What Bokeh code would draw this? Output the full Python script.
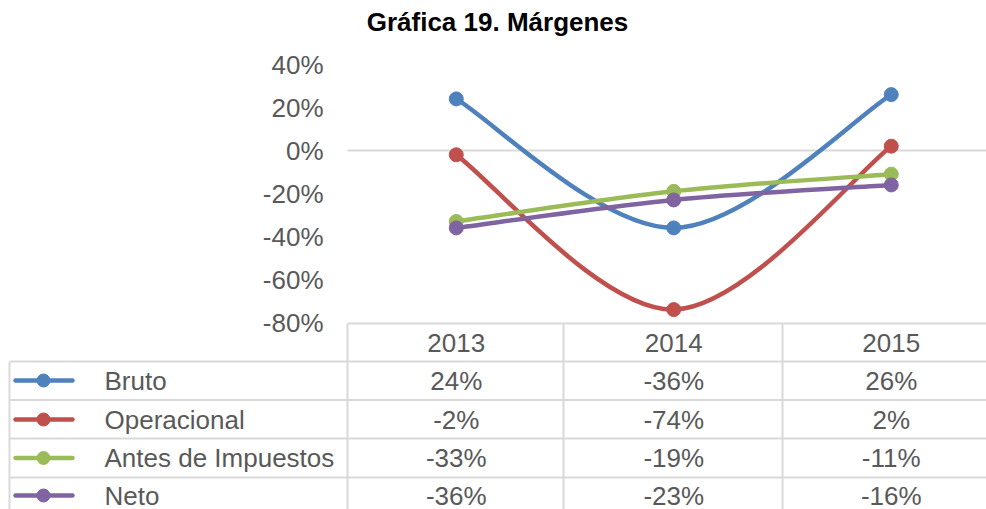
from bokeh.plotting import figure
from bokeh.models import Range1d, ColumnDataSource
from bokeh.core.properties import value
from bokeh.embed import file_html
from bokeh.resources import INLINE

# ---- data ----
years = ["2013", "2014", "2015"]
series_names = ["Bruto", "Operacional", "Antes de Impuestos", "Neto"]
bruto = [24, -36, 26]
operacional = [-2, -74, 2]
antes_impuestos = [-33, -19, -11]
neto = [-36, -23, -16]
y_ticks = [40, 20, 0, -20, -40, -60, -80]
title_text = "Gráfica 19. Márgenes"

series_values = [bruto, operacional, antes_impuestos, neto]
colors = ["#4F81BD", "#C0504D", "#9BBB59", "#8064A2"]

W, H = 986, 509
OFF = 0               # page offset of the figure in the screenshot
SLOT = 217.5
X0PX = 347.0 - OFF    # figure px of left edge of first category slot
ZERO_PX = 150.0 - OFF # figure px (from top) of the 0% line
PPV = 2.15            # px per percent

x_start = -X0PX / SLOT
x_end = (W - X0PX) / SLOT
y_top = ZERO_PX / PPV
y_bot = (ZERO_PX - H) / PPV

p = figure(width=W, height=H, output_backend="svg", toolbar_location=None,
           x_range=Range1d(x_start, x_end), y_range=Range1d(y_bot, y_top),
           x_axis_location=None, y_axis_location=None, min_border=0)
p.outline_line_color = None
p.xgrid.visible = False
p.ygrid.visible = False
p.background_fill_color = "white"
p.border_fill_color = "white"

# helpers converting reference screenshot pixels to data coordinates (layout only)
def dx(rx):
    return (rx - OFF - X0PX) / SLOT

def dy(ry):
    return (ZERO_PX - (ry - OFF)) / PPV

FONT = "Liberation Sans"
TXT = "#595959"
GRID = "#D9D9D9"
FS = "26px"

# ---- data table grid ----
right = dx(1000)
hx0, hx1, hy = [], [], []
hx0.append(dx(347)); hx1.append(right); hy.append(dy(323))
for ry in [361, 399.5, 438, 477]:
    hx0.append(dx(9)); hx1.append(right); hy.append(dy(ry))
p.segment(x0=hx0, y0=hy, x1=hx1, y1=hy, line_color=GRID, line_width=2)
vx = [dx(9), dx(347), dx(563), dx(782)]
vy0 = [dy(361), dy(323), dy(323), dy(323)]
p.segment(x0=vx, y0=vy0, x1=vx, y1=[dy(520)] * 4, line_color=GRID, line_width=2)

# zero line
p.segment(x0=[dx(347)], y0=[0], x1=[right], y1=[0], line_color=GRID, line_width=2)

# ---- y tick labels ----
p.text(x=[dx(323)] * len(y_ticks), y=y_ticks, text=[f"{t}%" for t in y_ticks],
       text_font=value(FONT), text_font_size=FS, text_color=TXT,
       text_align="right", text_baseline="middle")

# ---- smooth lines (Excel-style Catmull-Rom bezier) ----
xs = [i + 0.5 for i in range(len(years))]
for vals, col in zip(series_values, colors):
    n = len(vals)
    d = dict(x0=[], y0=[], x1=[], y1=[], cx0=[], cy0=[], cx1=[], cy1=[])
    for i in range(n - 1):
        pi, ni = max(i - 1, 0), min(i + 2, n - 1)
        d["x0"].append(xs[i]); d["y0"].append(vals[i])
        d["x1"].append(xs[i + 1]); d["y1"].append(vals[i + 1])
        d["cx0"].append(xs[i] + (xs[i + 1] - xs[pi]) / 6)
        d["cy0"].append(vals[i] + (vals[i + 1] - vals[pi]) / 6)
        d["cx1"].append(xs[i + 1] - (xs[ni] - xs[i]) / 6)
        d["cy1"].append(vals[i + 1] - (vals[ni] - vals[i]) / 6)
    p.bezier(source=ColumnDataSource(d), x0="x0", y0="y0", x1="x1", y1="y1",
             cx0="cx0", cy0="cy0", cx1="cx1", cy1="cy1",
             line_color=col, line_width=4.5, line_cap="round")
    p.scatter(x=xs, y=vals, size=14, fill_color=col, line_color=col)

# ---- table header ----
p.text(x=xs, y=[dy(342)] * len(years), text=years,
       text_font=value(FONT), text_font_size=FS, text_color=TXT,
       text_align="center", text_baseline="middle")

# ---- table rows ----
row_centers = [380, 419, 457.5, 495]
for name, vals, col, rc in zip(series_names, series_values, colors, row_centers):
    yc = dy(rc)
    p.segment(x0=[dx(15)], y0=[yc], x1=[dx(72)], y1=[yc], line_color=col,
              line_width=4.5, line_cap="round")
    p.scatter(x=[dx(43)], y=[yc], size=13, fill_color=col, line_color=col)
    p.text(x=[dx(104)], y=[yc], text=[name], text_font=value(FONT),
           text_font_size=FS, text_color=TXT, text_align="left",
           text_baseline="middle")
    p.text(x=xs, y=[yc] * len(vals), text=[f"{v}%" for v in vals],
           text_font=value(FONT), text_font_size=FS, text_color=TXT,
           text_align="center", text_baseline="middle")

# ---- title ----
p.text(x=[dx(497)], y=[dy(21)], text=[title_text], text_font=value(FONT),
       text_font_size="26px", text_font_style="bold", text_color="#000000",
       text_align="center", text_baseline="middle")

open("out.html", "w").write(file_html(p, INLINE))
